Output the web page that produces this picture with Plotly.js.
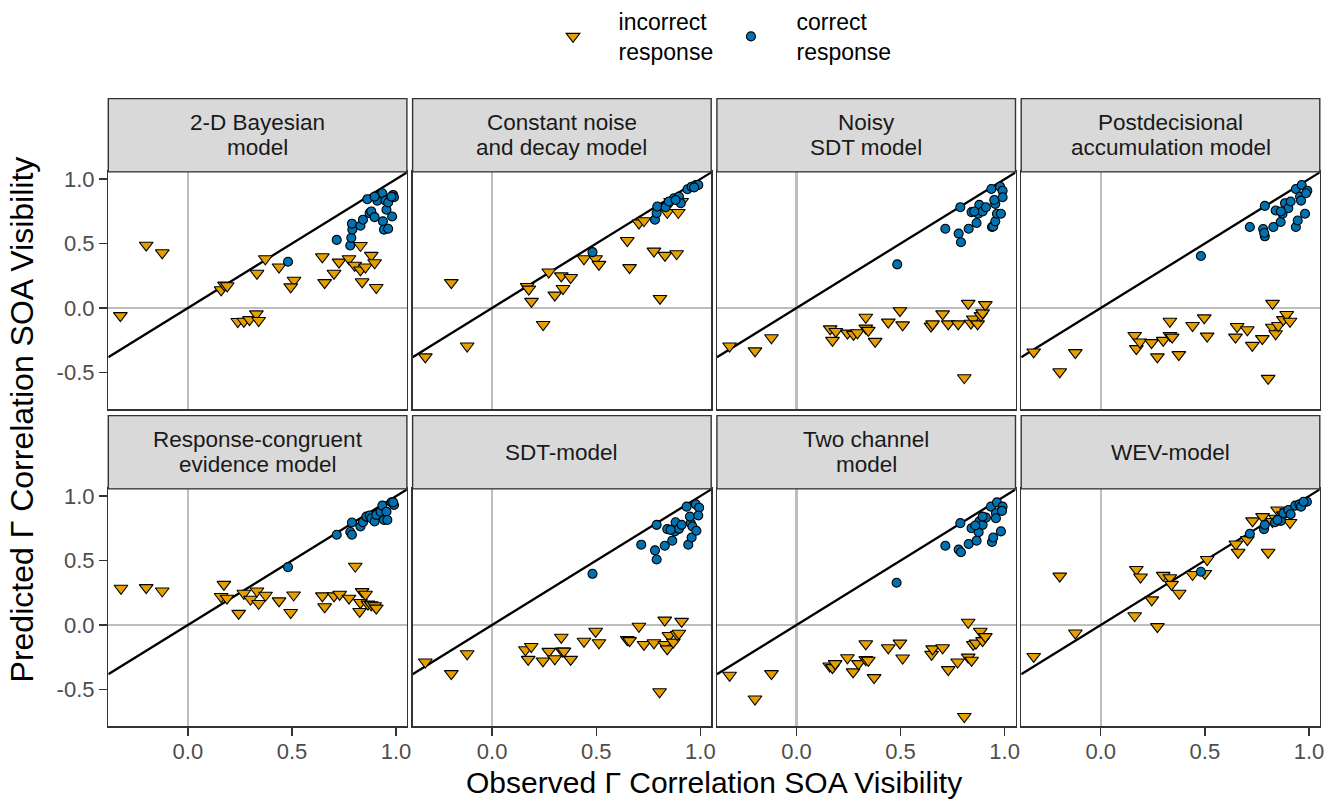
<!DOCTYPE html>
<html><head><meta charset="utf-8">
<script src="https://cdn.plot.ly/plotly-3.0.1.min.js"></script>
<style>html,body{margin:0;padding:0;background:#fff}#chart{width:1338px;height:800px}</style>
</head><body><div id="chart"></div>
<script>
// ---------------- DATA ----------------
const panelTitles = ["2-D Bayesian\nmodel", "Constant noise\nand decay model", "Noisy\nSDT model", "Postdecisional\naccumulation model",
  "Response-congruent\nevidence model", "SDT-model", "Two channel\nmodel", "WEV-model"];
const seriesNames = ["&nbsp;&nbsp;&nbsp;&nbsp;incorrect<br>&nbsp;&nbsp;&nbsp;&nbsp;response&nbsp;&nbsp;", "&nbsp;&nbsp;&nbsp;&nbsp;correct<br>&nbsp;&nbsp;&nbsp;&nbsp;response"];
const xTickVals = [0, 0.5, 1.0];
const xTickLabels = ["0.0", "0.5", "1.0"];
const yTickVals = [-0.5, 0, 0.5, 1.0];
const yTickLabels = ["-0.5", "0.0", "0.5", "1.0"];
const xTitle = "Observed Γ Correlation SOA Visibility";
const yTitle = "Predicted Γ Correlation SOA Visibility";

// 2-D Bayesian model
const bayesIncX = [-0.324,-0.200,-0.123,0.160,0.176,0.189,0.240,0.269,0.296,0.329,0.340,0.332,0.372,0.438,0.510,0.494,0.646,0.657,0.702,0.726,0.774,0.801,0.829,0.829,0.837,0.853,0.881,0.897,0.905];
const bayesIncY = [-0.059,0.487,0.428,0.141,0.177,0.172,-0.105,-0.103,-0.090,-0.046,-0.097,0.269,0.382,0.318,0.215,0.164,0.397,0.197,0.269,0.356,0.382,0.331,0.485,0.295,0.203,0.318,0.408,0.351,0.159];
const bayesCorX = [0.481,0.715,0.780,0.785,0.790,0.788,0.829,0.841,0.873,0.881,0.897,0.937,0.942,0.962,0.981,0.954,0.862,0.910,0.934,0.949,0.962,0.986,0.990,0.978,0.897];
const bayesCorY = [0.359,0.528,0.485,0.544,0.608,0.654,0.638,0.685,0.736,0.749,0.705,0.672,0.608,0.615,0.710,0.762,0.844,0.833,0.890,0.833,0.818,0.877,0.859,0.864,0.864];

// Constant noise and decay model
const cndIncX = [-0.321,-0.196,-0.120,0.168,0.176,0.189,0.245,0.272,0.301,0.332,0.340,0.377,0.441,0.497,0.513,0.649,0.660,0.705,0.729,0.777,0.806,0.830,0.841,0.886,0.894,0.857,0.910];
const cndIncY = [-0.379,0.197,-0.295,0.167,0.146,0.051,-0.128,0.279,0.100,0.249,0.151,0.236,0.382,0.382,0.338,0.523,0.313,0.659,0.677,0.441,0.074,0.408,0.741,0.421,0.741,0.826,0.826];
const cndCorX = [0.482,0.782,0.790,0.793,0.833,0.873,0.897,0.906,0.849,0.938,0.958,0.978,0.990,0.970,0.881];
const cndCorY = [0.433,0.685,0.736,0.787,0.782,0.851,0.864,0.813,0.826,0.921,0.941,0.954,0.954,0.936,0.838];

// Noisy SDT model
const nsdtIncX = [-0.321,-0.199,-0.120,0.162,0.173,0.189,0.245,0.274,0.293,0.333,0.333,0.345,0.378,0.441,0.497,0.510,0.646,0.654,0.702,0.729,0.777,0.806,0.825,0.838,0.849,0.870,0.886,0.894,0.907];
const nsdtIncY = [-0.295,-0.333,-0.231,-0.162,-0.251,-0.182,-0.195,-0.205,-0.192,-0.072,-0.156,-0.174,-0.259,-0.110,-0.021,-0.131,-0.141,-0.123,-0.046,-0.123,-0.123,-0.541,0.036,-0.118,-0.085,-0.123,-0.059,-0.038,0.026];
const nsdtCorX = [0.484,0.715,0.779,0.790,0.787,0.827,0.841,0.865,0.873,0.878,0.894,0.910,0.936,0.939,0.945,0.955,0.955,0.963,0.950,0.978,0.990,0.990,0.982,0.854];
const nsdtCorY = [0.338,0.615,0.577,0.510,0.782,0.615,0.744,0.659,0.731,0.800,0.749,0.782,0.923,0.628,0.633,0.672,0.808,0.731,0.838,0.941,0.910,0.859,0.731,0.749];

// Postdecisional accumulation model
const postIncX = [-0.322,-0.197,-0.122,0.163,0.171,0.188,0.244,0.272,0.300,0.332,0.332,0.343,0.375,0.441,0.497,0.511,0.647,0.655,0.704,0.728,0.776,0.804,0.825,0.824,0.840,0.853,0.877,0.893,0.909];
const postIncY = [-0.341,-0.495,-0.346,-0.213,-0.315,-0.264,-0.269,-0.379,-0.251,-0.103,-0.213,-0.226,-0.362,-0.136,-0.077,-0.218,-0.226,-0.144,-0.169,-0.290,-0.238,-0.546,0.036,-0.149,-0.200,-0.136,-0.090,-0.051,-0.103];
const postCorX = [0.481,0.716,0.780,0.788,0.785,0.788,0.829,0.840,0.864,0.873,0.885,0.901,0.912,0.937,0.937,0.946,0.957,0.962,0.965,0.981,0.992,0.986,0.865];
const postCorY = [0.403,0.628,0.613,0.556,0.582,0.792,0.628,0.756,0.667,0.731,0.813,0.774,0.826,0.923,0.628,0.679,0.864,0.833,0.954,0.731,0.910,0.890,0.749];

// Response-congruent evidence model
const rceIncX = [-0.321,-0.200,-0.123,0.160,0.173,0.188,0.244,0.269,0.301,0.332,0.340,0.373,0.438,0.494,0.508,0.646,0.657,0.702,0.729,0.774,0.804,0.829,0.825,0.837,0.853,0.865,0.881,0.897,0.905];
const rceIncY = [0.285,0.290,0.264,0.221,0.315,0.208,0.090,0.246,0.200,0.264,0.167,0.231,0.187,0.097,0.233,0.226,0.141,0.226,0.238,0.208,0.456,0.174,0.105,0.259,0.238,0.162,0.156,0.149,0.131];
const rceCorX = [0.481,0.715,0.780,0.788,0.788,0.829,0.841,0.857,0.873,0.881,0.897,0.905,0.926,0.934,0.942,0.954,0.958,0.978,0.990,0.986];
const rceCorY = [0.449,0.700,0.721,0.700,0.795,0.764,0.797,0.841,0.849,0.828,0.803,0.854,0.879,0.926,0.815,0.879,0.815,0.951,0.931,0.951];

// SDT-model
const sdtIncX = [-0.321,-0.196,-0.120,0.160,0.173,0.188,0.244,0.272,0.301,0.332,0.337,0.345,0.377,0.441,0.497,0.513,0.649,0.660,0.705,0.729,0.777,0.804,0.829,0.829,0.841,0.849,0.870,0.889,0.897,0.910];
const sdtIncY = [-0.287,-0.377,-0.223,-0.192,-0.267,-0.167,-0.279,-0.205,-0.262,-0.095,-0.203,-0.203,-0.267,-0.126,-0.049,-0.138,-0.113,-0.121,-0.010,-0.151,-0.138,-0.518,0.038,-0.151,-0.185,-0.082,-0.133,-0.074,-0.064,0.028];
const sdtCorX = [0.482,0.716,0.782,0.790,0.790,0.829,0.841,0.865,0.877,0.881,0.897,0.910,0.934,0.942,0.958,0.954,0.950,0.962,0.981,0.978,0.994,0.990,0.857];
const sdtCorY = [0.397,0.623,0.579,0.508,0.777,0.615,0.744,0.654,0.726,0.797,0.746,0.777,0.918,0.623,0.679,0.790,0.841,0.764,0.731,0.936,0.910,0.849,0.738];

// Two channel model
const twoIncX = [-0.321,-0.199,-0.120,0.160,0.173,0.186,0.245,0.272,0.298,0.333,0.333,0.345,0.373,0.441,0.497,0.510,0.649,0.654,0.702,0.729,0.774,0.806,0.825,0.825,0.841,0.849,0.862,0.883,0.894,0.907];
const twoIncY = [-0.390,-0.574,-0.377,-0.318,-0.331,-0.300,-0.254,-0.364,-0.300,-0.146,-0.269,-0.274,-0.408,-0.177,-0.141,-0.256,-0.228,-0.185,-0.177,-0.346,-0.287,-0.710,0.021,-0.249,-0.274,-0.151,-0.141,-0.049,-0.121,-0.090];
const twoCorX = [0.481,0.715,0.779,0.790,0.787,0.827,0.841,0.865,0.875,0.878,0.894,0.910,0.934,0.939,0.945,0.958,0.958,0.982,0.963,0.990,0.987,0.894,0.859];
const twoCorY = [0.328,0.615,0.585,0.564,0.790,0.628,0.751,0.654,0.720,0.803,0.777,0.833,0.918,0.644,0.679,0.867,0.828,0.726,0.951,0.918,0.885,0.841,0.772];

// WEV-model
const wevIncX = [-0.322,-0.197,-0.122,0.163,0.171,0.191,0.245,0.272,0.300,0.332,0.340,0.377,0.441,0.500,0.511,0.649,0.660,0.704,0.729,0.777,0.804,0.825,0.840,0.849,0.877,0.893,0.909];
const wevIncY = [-0.244,0.379,-0.062,0.072,0.431,0.372,0.195,-0.013,0.385,0.367,0.315,0.246,0.392,0.400,0.508,0.628,0.564,0.662,0.808,0.841,0.564,0.803,0.828,0.892,0.854,0.879,0.795];
const wevCorX = [0.481,0.716,0.784,0.788,0.837,0.865,0.877,0.901,0.912,0.934,0.954,0.962,0.990,0.974,0.849];
const wevCorY = [0.413,0.708,0.744,0.777,0.797,0.808,0.867,0.892,0.859,0.926,0.936,0.918,0.956,0.956,0.815];

const panelData = [
  [bayesIncX, bayesIncY, bayesCorX, bayesCorY],
  [cndIncX, cndIncY, cndCorX, cndCorY],
  [nsdtIncX, nsdtIncY, nsdtCorX, nsdtCorY],
  [postIncX, postIncY, postCorX, postCorY],
  [rceIncX, rceIncY, rceCorX, rceCorY],
  [sdtIncX, sdtIncY, sdtCorX, sdtCorY],
  [twoIncX, twoIncY, twoCorX, twoCorY],
  [wevIncX, wevIncY, wevCorX, wevCorY]
];

// ---------------- LAYOUT ----------------
const W = 1338, H = 800;
const colLeft = [108.3, 412.6, 716.9, 1021.2], panelW = 298.6;
const rowTop = [169.5, 487.7], panelH = 238.2, stripH = 73.5;
const xRange = [-0.382, 1.052], yRange = [-0.785, 1.056];
const FONT = "Liberation Sans, Arial, Helvetica, sans-serif";
const frameColor = "#333333";

const traces = [];
const layout = {
  width: W, height: H,
  margin: {l: 0, r: 0, t: 0, b: 0, pad: 0},
  paper_bgcolor: "#ffffff", plot_bgcolor: "#ffffff",
  font: {family: FONT, color: "#000"},
  showlegend: true,
  legend: {orientation: "h", x: 553 / W, xanchor: "left", y: 1 + 3 / H, yanchor: "top",
    font: {size: 23, color: "#000", family: FONT}, bgcolor: "rgba(0,0,0,0)", borderwidth: 0, tracegroupgap: 0},
  shapes: [], annotations: []
};

for (let i = 0; i < 8; i++) {
  const r = Math.floor(i / 4), c = i % 4;
  const sfx = i === 0 ? "" : String(i + 1);
  const left = colLeft[c], top = rowTop[r];
  layout["xaxis" + sfx] = {
    domain: [left / W, (left + panelW) / W], range: xRange, anchor: "y" + sfx,
    showgrid: false, zeroline: true, zerolinecolor: "#bebebe", zerolinewidth: 2.4,
    showline: true, mirror: true, linecolor: frameColor, linewidth: 1.4,
    tickmode: "array", tickvals: xTickVals, ticktext: xTickLabels,
    ticks: r === 1 ? "outside" : "", ticklen: 8, tickwidth: 1.4, tickcolor: frameColor,
    showticklabels: r === 1, ticklabelstandoff: -3, tickfont: {size: 22, color: "#4d4d4d", family: FONT},
    fixedrange: true
  };
  layout["yaxis" + sfx] = {
    domain: [1 - (top + panelH) / H, 1 - top / H], range: yRange, anchor: "x" + sfx,
    showgrid: false, zeroline: true, zerolinecolor: "#bebebe", zerolinewidth: 2.4,
    showline: true, mirror: true, linecolor: frameColor, linewidth: 1.4,
    tickmode: "array", tickvals: yTickVals, ticktext: yTickLabels,
    ticks: c === 0 ? "outside" : "", ticklen: 8, tickwidth: 1.4, tickcolor: frameColor,
    showticklabels: c === 0, tickfont: {size: 22, color: "#4d4d4d", family: FONT},
    fixedrange: true
  };
  // strip
  layout.shapes.push({type: "rect", xref: "paper", yref: "paper",
    x0: left / W, x1: (left + panelW) / W, y0: 1 - top / H, y1: 1 - (top - stripH) / H,
    fillcolor: "#d9d9d9", line: {color: frameColor, width: 1.4}, layer: "above"});
  const lines = panelTitles[i].split("\n");
  const yc = top - stripH / 2;
  lines.forEach((t, k) => {
    const yy = yc + (k - (lines.length - 1) / 2) * 25;
    layout.annotations.push({text: t, xref: "paper", yref: "paper", x: (left + panelW / 2) / W, y: 1 - yy / H,
      xanchor: "center", yanchor: "middle", showarrow: false, font: {size: 22.5, color: "#1a1a1a", family: FONT}});
  });

  const d = panelData[i];
  traces.push({x: xRange, y: xRange, mode: "lines", line: {color: "#000", width: 2.3},
    xaxis: "x" + sfx, yaxis: "y" + sfx, showlegend: false, hoverinfo: "skip", cliponaxis: true});
  traces.push({x: d[0], y: d[1], mode: "markers", name: seriesNames[0], legendgroup: "inc", showlegend: i === 0,
    marker: {symbol: "triangle-down", size: 12, color: "#E69F00", line: {color: "#000", width: 1.1}},
    xaxis: "x" + sfx, yaxis: "y" + sfx, cliponaxis: false});
  traces.push({x: d[2], y: d[3], mode: "markers", name: seriesNames[1], legendgroup: "cor", showlegend: i === 0,
    marker: {symbol: "circle", size: 9, color: "#0072B2", line: {color: "#000", width: 1.1}},
    xaxis: "x" + sfx, yaxis: "y" + sfx, cliponaxis: false});
}

layout.annotations.push({text: xTitle, xref: "paper", yref: "paper", x: 714 / W, y: 0,
  xanchor: "center", yanchor: "bottom", borderpad: 0, showarrow: false, font: {size: 30, color: "#000", family: FONT}});
layout.annotations.push({text: yTitle, xref: "paper", yref: "paper", x: 22 / W, y: 1 - 418 / H, textangle: -90,
  xanchor: "center", yanchor: "middle", showarrow: false, font: {size: 32, color: "#000", family: FONT}});

Plotly.newPlot("chart", traces, layout, {displayModeBar: false, staticPlot: true});
</script>
</body></html>
